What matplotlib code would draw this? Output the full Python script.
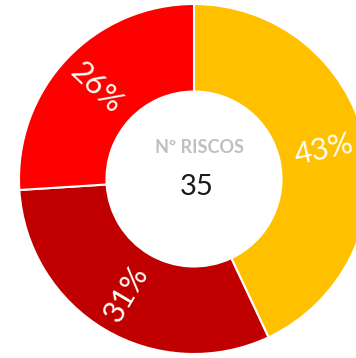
import matplotlib
matplotlib.use("Agg")
import numpy as np
from matplotlib import pyplot as plt

plt.rcParams["font.family"] = ["Lato", "DejaVu Sans"]

# dados do gráfico
categorias = ["Alto", "Crítico", "Muito alto"]
percentagens = [43, 31, 26]
cores = ["#FFC000", "#C00000", "#FF0000"]
total_riscos = 35
titulo_centro = "Nº RISCOS"

fig = plt.figure(figsize=(3.56, 3.58), dpi=100)
ax = fig.add_axes([0, 0, 1, 1])

wedges, _ = ax.pie(percentagens, colors=cores, startangle=90, counterclock=False,
                   radius=1.0, wedgeprops=dict(width=0.5, edgecolor="white", linewidth=1.5))

# rótulos radiais dentro do anel
for w, p in zip(wedges, percentagens):
    ang = (w.theta1 + w.theta2) / 2
    x = 0.76 * np.cos(np.radians(ang))
    y = 0.76 * np.sin(np.radians(ang))
    rot = ang
    if 90 < ang % 360 < 270:
        rot = ang - 180
    ax.text(x, y, "{}%".format(p), rotation=rot, rotation_mode="anchor",
            ha="center", va="center", color="#FFFDF5", fontsize=22)

ax.text(0.03, 0.18, titulo_centro, ha="center", va="center", color="#BFBFBF",
        fontsize=13, fontweight="bold")
ax.text(0.015, -0.045, str(total_riscos), ha="center", va="center", color="#1A1A1A",
        fontsize=21)

# centro em (194, 179) px, raio 175 px
esc = 175.0
ax.set_xlim(-194 / esc, (356 - 194) / esc)
ax.set_ylim(-(358 - 179) / esc, 179 / esc)
ax.set_aspect("auto")
ax.axis("off")

fig.savefig("out.png", dpi=100, facecolor="white")
